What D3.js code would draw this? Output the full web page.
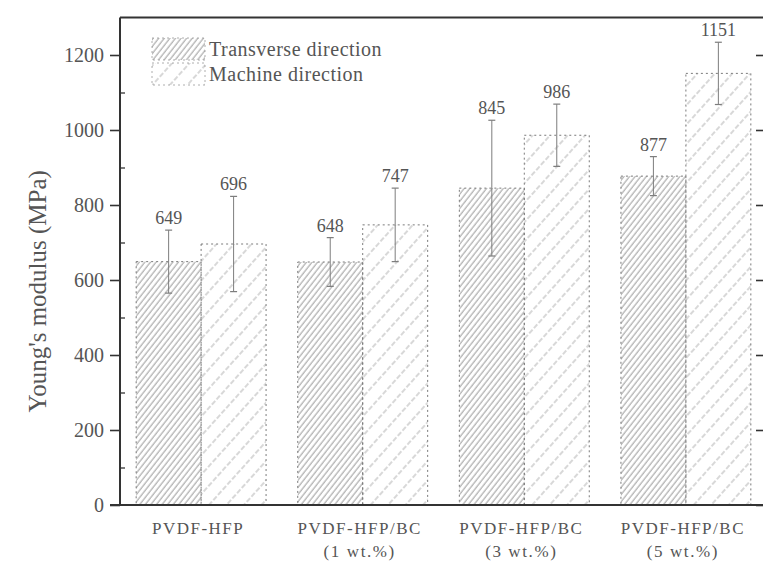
<!DOCTYPE html>
<html>
<head>
<meta charset="utf-8">
<script src="https://cdn.jsdelivr.net/npm/d3@7"></script>
<style>
  html, body { margin: 0; padding: 0; background: #ffffff; }
  svg { display: block; }
  text { font-family: "Liberation Serif", "DejaVu Serif", serif; }
</style>
</head>
<body>
<svg id="chart" width="763" height="562"></svg>
<script>
// ---- data ----
const categories = ["PVDF-HFP", "PVDF-HFP/BC", "PVDF-HFP/BC", "PVDF-HFP/BC"];
const subLabels = ["", "(1 wt.%)", "(3 wt.%)", "(5 wt.%)"];
const seriesNames = ["Transverse direction", "Machine direction"];
const transverse = [649, 648, 845, 877];
const machine = [696, 747, 986, 1151];
const transverseErr = [84, 65, 181, 52];
const machineErr = [127, 98, 83, 83];
const yMajorTicks = [0, 200, 400, 600, 800, 1000, 1200];
const yMinorTicks = [100, 300, 500, 700, 900, 1100];
const yTitle = "Young's modulus (MPa)";

// ---- layout ----
const svg = d3.select("#chart");
const mLeft = 120, mRight = 767, mTop = 17.5, mBottom = 505;

const y = d3.scaleLinear().domain([0, 1300]).range([mBottom, mTop]);
const keys = categories.map((c, i) => "g" + i);
const x = d3.scaleBand().domain(keys).range([mLeft, mRight])
  .paddingInner(0.196).paddingOuter(0.1);
const xs = d3.scaleBand().domain(seriesNames).range([0, x.bandwidth()]);

const groups = keys.map((k, i) => ({
  key: k,
  bars: [
    { s: seriesNames[0], v: transverse[i], e: transverseErr[i] },
    { s: seriesNames[1], v: machine[i], e: machineErr[i] }
  ]
}));

// ---- patterns ----
const defs = svg.append("defs");
const p1 = defs.append("pattern").attr("id", "hatchT")
  .attr("patternUnits", "userSpaceOnUse").attr("width", 4.4).attr("height", 10)
  .attr("patternTransform", "rotate(38)");
p1.append("line").attr("x1", 1).attr("y1", 0).attr("x2", 1).attr("y2", 10)
  .attr("stroke", "#8f8f8f").attr("stroke-width", 0.9);
const p2 = defs.append("pattern").attr("id", "hatchM")
  .attr("patternUnits", "userSpaceOnUse").attr("width", 13).attr("height", 14)
  .attr("patternTransform", "rotate(42)");
p2.append("line").attr("x1", 2).attr("y1", 0).attr("x2", 2).attr("y2", 14)
  .attr("stroke", "#a8a8a8").attr("stroke-width", 0.9)
  .attr("stroke-dasharray", "5,2");

const fillFor = s => s === seriesNames[0] ? "url(#hatchT)" : "url(#hatchM)";

// ---- bars ----
const g = svg.append("g");
const grp = g.selectAll("g.grp").data(groups).join("g")
  .attr("class", "grp")
  .attr("transform", d => `translate(${x(d.key)},0)`);

grp.selectAll("rect").data(d => d.bars).join("rect")
  .attr("x", d => xs(d.s))
  .attr("y", d => y(d.v))
  .attr("width", xs.bandwidth())
  .attr("height", d => y(0) - y(d.v))
  .attr("fill", d => fillFor(d.s))
  .attr("stroke", "#7a7a7a")
  .attr("stroke-width", 1)
  .attr("stroke-dasharray", "2,3");

// error bars
const capW = 3.5;
grp.selectAll("g.err").data(d => d.bars).join("g").attr("class", "err")
  .each(function(d) {
    const cx = xs(d.s) + xs.bandwidth() / 2;
    const e = d3.select(this);
    e.append("line").attr("x1", cx).attr("x2", cx)
      .attr("y1", y(d.v + d.e)).attr("y2", y(d.v - d.e))
      .attr("stroke", "#7d7d7d").attr("stroke-width", 1);
    [d.v + d.e, d.v - d.e].forEach(v => {
      e.append("line").attr("x1", cx - capW).attr("x2", cx + capW)
        .attr("y1", y(v)).attr("y2", y(v))
        .attr("stroke", "#7d7d7d").attr("stroke-width", 1.2);
    });
    e.append("text").attr("x", cx).attr("y", y(d.v + d.e) - 6)
      .attr("text-anchor", "middle").style("font-size", "18px")
      .attr("fill", "#555").text(d.v);
  });

// ---- axes ----
const axisColor = "#333";
const yAxis = svg.append("g").attr("transform", `translate(${mLeft},0)`)
  .call(d3.axisLeft(y).tickValues(yMajorTicks).tickFormat(d3.format("d"))
    .tickSize(10).tickPadding(6));
yAxis.select(".domain").remove();
yAxis.selectAll(".tick line").attr("stroke", axisColor).attr("stroke-width", 1.6);
yAxis.selectAll(".tick text")
  .style("font-family", "'Liberation Serif', serif")
  .style("font-size", "20px").attr("fill", "#555");

const yMinor = svg.append("g").attr("transform", `translate(${mLeft},0)`)
  .call(d3.axisRight(y).tickValues(yMinorTicks).tickSize(5).tickFormat(""));
yMinor.select(".domain").remove();
yMinor.selectAll(".tick line").attr("stroke", axisColor).attr("stroke-width", 1.3);

const yRight = svg.append("g").attr("transform", `translate(${mRight - 3},0)`)
  .call(d3.axisLeft(y).tickValues(yMajorTicks).tickSize(8).tickFormat(""));
yRight.select(".domain").remove();
yRight.selectAll(".tick line").attr("stroke", axisColor).attr("stroke-width", 1.6);

// frame
svg.append("line").attr("x1", mLeft).attr("x2", mLeft).attr("y1", mTop).attr("y2", mBottom)
  .attr("stroke", axisColor).attr("stroke-width", 2);
svg.append("line").attr("x1", mLeft).attr("x2", 763).attr("y1", mTop).attr("y2", mTop)
  .attr("stroke", axisColor).attr("stroke-width", 1.8);
svg.append("line").attr("x1", mLeft - 10).attr("x2", 763).attr("y1", mBottom).attr("y2", mBottom)
  .attr("stroke", axisColor).attr("stroke-width", 2.2);

// x labels
const xl = svg.append("g");
keys.forEach((k, i) => {
  const cx = x(k) + x.bandwidth() / 2 - 3;
  xl.append("text").attr("x", cx).attr("y", 534).attr("text-anchor", "middle")
    .style("font-size", "17px").attr("letter-spacing", 1.5).attr("fill", "#555")
    .text(categories[i]);
  if (subLabels[i]) {
    xl.append("text").attr("x", cx).attr("y", 557).attr("text-anchor", "middle")
      .style("font-size", "17px").attr("letter-spacing", 1.6).attr("fill", "#555")
      .text(subLabels[i]);
  }
});

// y title
svg.append("text")
  .attr("transform", `translate(46,${(mTop + mBottom) / 2 + 30}) rotate(-90)`)
  .attr("text-anchor", "middle").style("font-size", "25px").attr("fill", "#555")
  .text(yTitle);

// ---- legend ----
const leg = svg.append("g").attr("transform", "translate(152,38)");
seriesNames.forEach((s, i) => {
  const row = leg.append("g").attr("transform", `translate(0,${i * 25})`);
  row.append("rect").attr("x", 0).attr("y", 0).attr("width", 53).attr("height", 22)
    .attr("fill", fillFor(s)).attr("stroke", "#999").attr("stroke-width", 0.8)
    .attr("stroke-dasharray", "2,3");
  row.append("text").attr("x", 57).attr("y", 18).style("font-size", "20px")
    .attr("letter-spacing", 0.5).attr("fill", "#555").text(s);
});
</script>
</body>
</html>
